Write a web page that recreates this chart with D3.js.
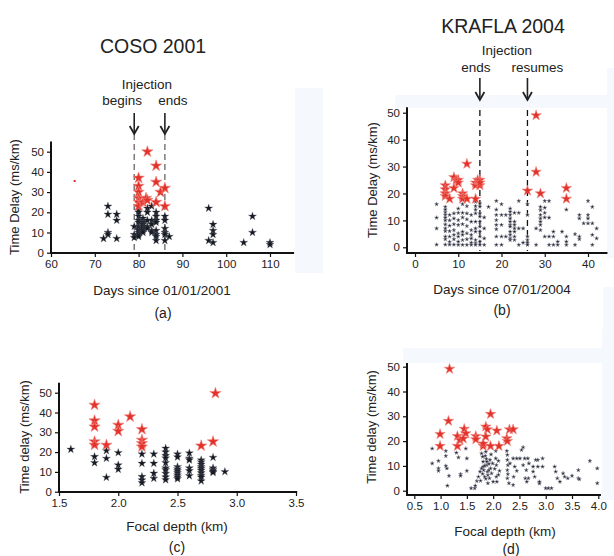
<!DOCTYPE html>
<html><head><meta charset="utf-8">
<script src="https://cdn.jsdelivr.net/npm/d3@7"></script>
<style>body{margin:0;background:#fff}svg{display:block}text{font-family:"Liberation Sans",Arial,sans-serif;fill:#222}</style>
</head><body><svg id="c" width="614" height="556"></svg>
<script>
// ---------- DATA ----------
const cosoTicksX=[60,70,80,90,100,110];
const delayTicks=[0,10,20,30,40,50];
const cosoBlack=[[72,7],[73,23],[73,19],[73,10],[73,9],[75,19],[75,16],[75,7],
[79,13],[79,9],[79,7.5],[80,21],[80,20],[80,18],[80,16],[80,15],[80,13],[80,12],[80,11],[80,10],[80,9],[80,8],
[81,17],[81,15],[81,14],[81,13],[81,12],[81,11],[81,10],[82,22],[82,20],[82,16],[82,13],[82,12],
[83,23],[83,16],[83,14],[83,11],[83,10],[84,20],[84,18],[84,16],[84,15],[84,11],[84,9],[84,8],[84,6],
[86,18],[86,16],[86,12],[86,10],[86,9],[86,6],[87,8],[96,22],[96,6],[97,14],[97,11],[97,9],[97,5],
[104,5],[106,18],[106,10],[110,5],[110,4]];
const cosoRed=[[80,37],[80,33],[80,30],[80,27],[80,25],[80,23],[81,25],[81.7,27],[82,26],[82,50],[84,43],[84,35],[84,25],[85,30],[86,32],[86,23]];
const cosoEvents=[79,86];
const cosoEventLabels=["begins","ends"];

const kraflaTicksX=[0,10,20,30,40];
const kraflaBlack=[[5,16],[5,11],[5,7],[5,1],
[7,15],[7,14],[7,13],[7,12],[7,11],[7,10],[7,8.5],[7,7],[7,6],[7,4],[7,3],[7,1],
[8,12],[8,10],[8,8],[8,6],[8,4],[8,2],[8,1],
[9,12.6],[9,10.7],[9,8.6],[9,6.4],[9,4.6],[9,3],[9,1],
[10,14.4],[10,12.8],[10,10.1],[10,8.3],[10,5.2],[10,4],[10,2.1],[10,0.9],
[11,16],[11,12.8],[11,11.1],[11,8.6],[11,5.8],[11,4.6],[11,2.7],[11,0.9],
[12,15.3],[12,12.6],[12,10.4],[12,7.9],[12,5.2],[12,3],[12,0.9],
[13,12],[13,9.5],[13,6.4],[13,4.6],[13,3.3],[13,1.7],[13,0.9],
[14,16.9],[14,15.3],[14,14],[14,12.6],[14,9.5],[14,7],[14,5.8],[14,2.7],[14,1.5],[14,0.9],
[15,16.3],[15,15.1],[15,12.6],[15,11.4],[15,9.5],[15,7.7],[15,5.8],[15,4],[15,2.1],[15,0.9],
[16,11.1],[16,7],[16,3.3],[16,0.9],[17,15],
[18.8,17.2],[18.8,14],[18.8,12],[18.8,10.1],[18.8,8.3],[18.8,6.7],[18.8,4],[18.8,0.9],
[20,16],[20,12],[20,8.3],[20,4],[20,0.9],[21,12],[21,4],
[22,14.4],[22,13.2],[22,12],[22,10.7],[22,9.5],[22,8.3],[22,7.7],[22,5.8],[22,4.6],[22,3.3],[22,2.7],
[23,12.8],[23,9.5],[23,8.3],[23,7],[23,5.8],[23,4],[23,2.7],
[24,17.2],[24,12.8],[24,7],[24,0.9],[25,7],[25,1.7],
[26,16],[26,12],[26,4],[26,2.7],[26,1.7],[26,0.9],[28,7],[28,0.9],
[29,15],[29,13.8],[29,12],[29,10.7],[29,9.5],[29,8.3],[29,6.4],
[30,17.2],[30,14.7],[30,12.8],[30,11.1],[30,4],[31,17.2],[31,11],[31,4],[31,0.9],
[32,5.8],[32,4],[32,0.9],[33,2.1],[33,0.9],[34,5.8],[35,14],[35,4],[35,2.1],[35,0.9],
[37,4.9],[37,0.9],[38,12],[38,10.7],[38,4],[38,3],[39,8.9],[40,17.2],[40,12],[40,10.7],[40,8.9],
[41,15],[41,8.9],[41,4.6],[41,0.9],[42,7],[42,3.3]];
const kraflaRed=[[7,23],[7,21.5],[7,20],[7,19],[8,18],[9,26],[9,22],[9.5,25],[10,25],[10,24],
[11,20],[11,19],[11,18],[12,18],[12,31],[14,18],[14,24],[14,23],[14.5,25],[15,23],[15,25],[15,24],
[26,21],[28,49],[28,28],[29,20],[35,22],[35,18]];
const kraflaEvents=[15,26];
const kraflaEventLabels=["ends","resumes"];

const cosoDepthTicks=[1.5,2.0,2.5,3.0,3.5];
const cosoDepthBlack=[[1.6,21.4],[1.8,17.7],[1.8,14.6],[1.9,20.7],[1.9,16.8],[1.9,7.2],
[2.0,19.7],[2.0,13.5],[2.0,11.3],[2.2,19],[2.2,14.3],[2.2,7.6],[2.2,5.9],[2.2,4.5],
[2.3,19],[2.3,14.3],[2.3,9.3],[2.3,6.7],
[2.4,21.9],[2.4,20],[2.4,18.2],[2.4,17],[2.4,14.6],[2.4,12],[2.4,11],[2.4,9.2],[2.4,7.4],[2.4,6],
[2.5,19],[2.5,17.5],[2.5,12.6],[2.5,11.5],[2.5,10.5],[2.5,9.5],[2.5,8.4],[2.5,7.4],[2.5,6.5],
[2.6,19.5],[2.6,16.8],[2.6,16],[2.6,12],[2.6,10.6],[2.6,8],
[2.7,16],[2.7,15],[2.7,13.8],[2.7,12.6],[2.7,11.7],[2.7,10.8],[2.7,9.5],[2.7,8.2],[2.7,7.3],[2.7,5.4],
[2.8,17.3],[2.8,12],[2.8,11],[2.8,10.3],[2.8,9.7],[2.9,10.1]];
const cosoDepthRed=[[1.8,43.8],[1.8,35.9],[1.8,32.8],[1.8,25.3],[1.8,23.6],[1.9,23.6],[2.0,33.7],[2.0,30.6],
[2.1,37.9],[2.2,31.5],[2.2,26.1],[2.2,24.4],[2.2,22.7],[2.7,23.2],[2.8,25.3],[2.82,49.7]];

const kraflaDepthTicks=[0.5,1.0,1.5,2.0,2.5,3.0,3.5,4.0];
const kraflaDepthBlack=[[0.84,17],[0.84,11],[0.96,12],[0.96,9],[0.96,8],[1.1,16],[1.1,14],[1.1,10],[1.12,9],[1.16,6],[1.13,2],
[1.3,15.3],[1.34,13.4],[1.38,6.7],[1.38,6],[1.48,17],[1.5,13],[1.5,8],[1.58,1],[1.65,1],[1.66,2],
[1.69,3.9],[1.72,5.6],[1.75,7.7],[1.78,15],[1.8,13.7],[1.81,11.7],[1.81,9.7],[1.82,8.3],[1.84,5.6],[1.76,4],
[1.86,15.7],[1.88,11.7],[1.88,10.3],[1.89,7.7],[1.9,6.3],[1.93,5],[1.9,3],[1.94,12.4],[1.95,9],[1.97,7],[2.0,3.6],
[1.85,14],[1.87,12.8],[1.92,10.8],[1.84,10],[1.96,14.6],[1.99,11],[1.8,6.8],[1.92,8.3],[1.86,4.8],[1.78,9],
[2.05,16],[2.05,13],[2.06,10.3],[2.06,5.6],[2.07,3.6],[2.1,12],[2.12,8],[2.1,6.4],[2.03,8.8],
[2.26,16],[2.27,14.4],[2.27,12.4],[2.28,10.3],[2.27,8.3],[2.28,6.7],[2.27,5],[2.3,3],[2.32,11],
[2.38,13],[2.41,9.7],[2.39,5.6],[2.38,2.3],[2.45,13],[2.45,8],
[2.54,16.4],[2.57,17.5],[2.51,13],[2.6,13],[2.66,13],[2.57,10.3],[2.63,8.3],[2.61,5],[2.67,5],[2.64,3.6],[2.68,11],
[2.81,12.4],[2.85,12.4],[2.76,9.7],[2.85,9.7],[2.76,7.7],[2.79,5.6],[2.88,2.9],
[2.94,13],[2.94,9.7],[2.88,3.6],[3.0,1],[3.05,1],[3.11,1],
[3.17,9.7],[3.19,7.7],[3.22,5],[3.27,3.6],[3.33,7],[3.36,5.6],[3.42,5],[3.5,6],
[3.62,8.3],[3.62,5],[3.64,4.6],[3.84,12],[3.98,9],[3.98,3]];
const kraflaDepthRed=[[1.17,49.1],[1.15,28.1],[0.99,22.8],[0.99,18],[1.32,22],[1.32,18],[1.37,20.4],
[1.45,24.9],[1.48,23.1],[1.43,21],[1.67,22],[1.67,20.7],[1.81,18],[1.81,19],[1.86,25.8],[1.89,24.7],
[1.86,21.8],[1.95,30.9],[1.95,18],[2.07,24.2],[2.11,18],[2.26,21.1],[2.27,20],[2.31,24.7],[2.38,24.7]];

// ---------- DRAW ----------
const svg=d3.select("#c");
svg.append("rect").attr("width",614).attr("height",556).attr("fill","#fff");
const bg=[[295,88,28,185],[395,95,212,13],[607,68,7,190],[603,287,11,43],[403,348,200,15],[602,330,12,170]];
svg.selectAll("rect.bg").data(bg).enter().append("rect").attr("class","bg")
 .attr("x",d=>d[0]).attr("y",d=>d[1]).attr("width",d=>d[2]).attr("height",d=>d[3]).attr("fill","#f5f9fd");

const RED="#e3312b", BLK="#151a20";
const star=s=>d3.symbol().type(d3.symbolStar).size(s)();

function panel(o){
  const g=svg.append("g");
  const x=d3.scaleLinear().domain(o.xd).range(o.xr);
  const y=d3.scaleLinear().domain([0,50]).range(o.yr);
  const ax=g.append("g").attr("transform",`translate(0,${o.xAxisY})`)
    .call(d3.axisBottom(x).tickValues(o.xticks).tickSize(4).tickPadding(3).tickFormat(o.xfmt||d3.format("d")));
  ax.select(".domain").remove();
  ax.selectAll("line").attr("stroke","#111").attr("stroke-width",1.2);
  ax.selectAll("text").attr("font-size",11.5).style("fill","#222");
  const ay=g.append("g").attr("transform",`translate(${o.yAxisX},0)`)
    .call(d3.axisLeft(y).tickValues(delayTicks).tickSize(4).tickPadding(3));
  ay.select(".domain").remove();
  ay.selectAll("line").attr("stroke","#111").attr("stroke-width",1.2);
  ay.selectAll("text").attr("font-size",11.5).style("fill","#222");
  g.append("line").attr("x1",o.yAxisX).attr("x2",x(o.xEnd)).attr("y1",o.xAxisY).attr("y2",o.xAxisY).attr("stroke","#111").attr("stroke-width",2);
  g.append("line").attr("x1",o.yAxisX).attr("x2",o.yAxisX).attr("y1",o.xAxisY+1).attr("y2",y(o.yTop)).attr("stroke","#111").attr("stroke-width",2);
  if(o.events){
    o.events.forEach((e,i)=>{
      const xx=x(e);
      g.append("line").attr("x1",xx).attr("x2",xx).attr("y1",o.dashTop).attr("y2",o.xAxisY-2)
       .attr("stroke",o.dashColor).attr("stroke-width",1.3).attr("stroke-dasharray","6,4");
      g.append("line").attr("x1",xx).attr("x2",xx).attr("y1",o.arrowTop).attr("y2",o.arrowBot).attr("stroke","#222").attr("stroke-width",1.6);
      g.append("path").attr("d",`M${xx-4.5},${o.arrowBot-8}L${xx},${o.arrowBot}L${xx+4.5},${o.arrowBot-8}`)
       .attr("fill","none").attr("stroke","#222").attr("stroke-width",1.8);
      g.append("text").attr("x",xx+o.labelDx[i]).attr("y",o.evLabelY).attr("text-anchor","middle").attr("font-size",13.5).text(o.eventLabels[i]);
    });
    g.append("text").attr("x",o.injX).attr("y",o.injY).attr("text-anchor","middle").attr("font-size",13.5).text("Injection");
  }
  g.selectAll("path.b").data(o.black).enter().append("path").attr("class","b")
   .attr("d",star(o.bs)).attr("transform",d=>`translate(${x(d[0])},${y(d[1])})`)
   .attr("fill",BLK).attr("stroke",o.bStroke||"#556").attr("stroke-width",o.bsw||0.5).attr("stroke-opacity",0.6);
  g.selectAll("path.r").data(o.red).enter().append("path").attr("class","r")
   .attr("d",star(o.rs)).attr("transform",d=>`translate(${x(d[0])},${y(d[1])})`)
   .attr("fill",RED).attr("stroke","#f08a80").attr("stroke-width",0.6);
  g.append("text").attr("transform",`translate(${o.ylabX},${o.ylabY}) rotate(-90)`).attr("text-anchor","middle")
   .attr("font-size",13).text(o.ylab);
  g.append("text").attr("x",o.xlabX).attr("y",o.xlabY).attr("text-anchor","middle").attr("font-size",13.5).text(o.xlab);
  g.append("text").attr("x",o.tagX).attr("y",o.tagY).attr("text-anchor","middle").attr("font-size",14).text(o.tag);
  if(o.title) g.append("text").attr("x",o.titleX).attr("y",o.titleY).attr("text-anchor","middle").attr("font-size",19.5).text(o.title);
  return {x,y,g};
}

const pa=panel({xd:[60,110],xr:[51,270],yr:[252.7,151.7],xAxisY:253,yAxisX:51,xEnd:115.5,yTop:55,
  xticks:cosoTicksX,black:cosoBlack,red:cosoRed,bs:20,rs:40,
  events:cosoEvents,eventLabels:cosoEventLabels,labelDx:[-12,8],evLabelY:105,injX:147,injY:89,
  dashTop:134,dashColor:"#666",arrowTop:113,arrowBot:134,
  ylab:"Time Delay (ms/km)",ylabX:19,ylabY:197,xlab:"Days since 01/01/2001",xlabX:162,xlabY:295,
  tag:"(a)",tagX:163,tagY:318,title:"COSO 2001",titleX:153,titleY:53});
pa.g.append("rect").attr("x",pa.x(65.4)-1).attr("y",pa.y(35.5)-1).attr("width",2).attr("height",2).attr("fill",RED);

panel({xd:[0,40],xr:[415,588],yr:[247.3,112.7],xAxisY:253,yAxisX:407,xEnd:44.5,yTop:52,
  xticks:kraflaTicksX,black:kraflaBlack,red:kraflaRed,bs:5,rs:34,bsw:0.8,bStroke:"#889",
  events:kraflaEvents,eventLabels:kraflaEventLabels,labelDx:[-4,10],evLabelY:72,injX:507,injY:55,
  dashTop:110,dashColor:"#111",arrowTop:78,arrowBot:100,
  ylab:"Time Delay (ms/km)",ylabX:377,ylabY:180,xlab:"Days since 07/01/2004",xlabX:502,xlabY:294,
  tag:"(b)",tagX:502,tagY:315,title:"KRAFLA 2004",titleX:503,titleY:33});

panel({xd:[1.5,3.5],xr:[59,296],yr:[491.7,392.7],xAxisY:492,yAxisX:59,xEnd:3.51,yTop:55,
  xticks:cosoDepthTicks,xfmt:d3.format(".1f"),black:cosoDepthBlack,red:cosoDepthRed,bs:20,rs:40,
  ylab:"Time delay (ms/km)",ylabX:29,ylabY:437,xlab:"Focal depth (km)",xlabX:177,xlabY:531,
  tag:"(c)",tagX:177,tagY:552});

panel({xd:[0.5,4.0],xr:[414.3,598.3],yr:[490.7,366.7],xAxisY:495,yAxisX:407,xEnd:4.05,yTop:51.5,
  xticks:kraflaDepthTicks,xfmt:d3.format(".1f"),black:kraflaDepthBlack,red:kraflaDepthRed,bs:5,rs:34,bsw:0.8,bStroke:"#889",
  ylab:"Time delay (ms/km)",ylabX:376,ylabY:427,xlab:"Focal depth (km)",xlabX:505,xlabY:536,
  tag:"(d)",tagX:511,tagY:554});
</script></body></html>
